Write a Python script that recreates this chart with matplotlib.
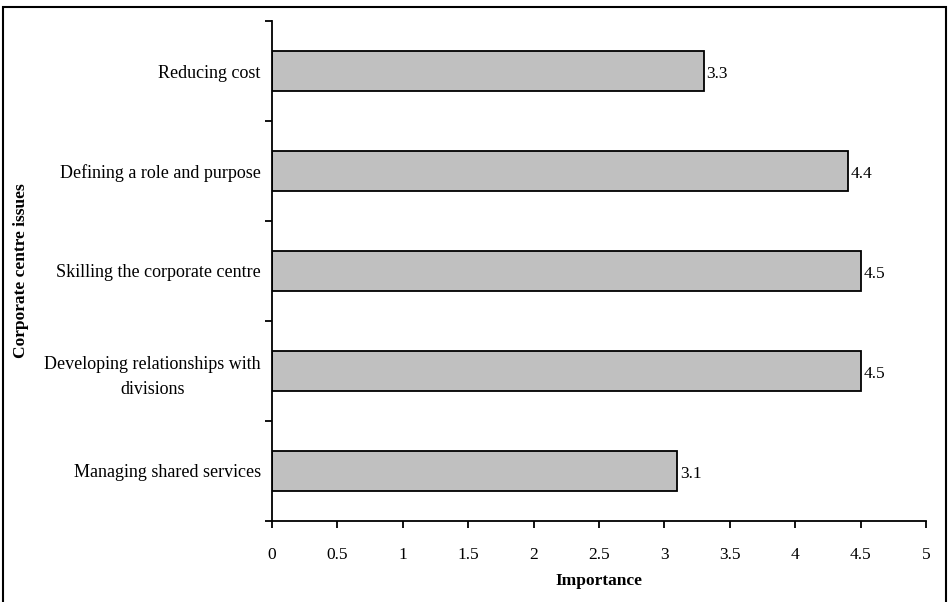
import matplotlib
matplotlib.use('Agg')
import matplotlib.pyplot as plt
from matplotlib.patches import Rectangle

plt.rcParams['font.family'] = ['Liberation Serif', 'DejaVu Serif']

# 항목별 중요도 (아래에서 위 순서)
issues = ['Managing shared services',
          'Developing relationships with\ndivisions',
          'Skilling the corporate centre',
          'Defining a role and purpose',
          'Reducing cost']
importance = [3.1, 4.5, 4.5, 4.4, 3.3]
xticks = [0, 0.5, 1, 1.5, 2, 2.5, 3, 3.5, 4, 4.5, 5]

fig = plt.figure(figsize=(9.49, 6.02), dpi=100)
ax = fig.add_axes([0.2866, 0.1346, 0.9758 - 0.2866, 0.9651 - 0.1346])

ypos = range(len(issues))
ax.barh(ypos, importance, height=0.4, color='#c0c0c0',
        edgecolor='black', linewidth=1.3)

for y, v in zip(ypos, importance):
    ax.text(v + 0.02, y - 0.03, '%.1f' % v, va='center', ha='left', fontsize=12.5)

ax.set_xlim(0, 5)
ax.set_ylim(-0.5, len(issues) - 0.5)
ax.set_xticks(xticks)
ax.set_xticklabels(['%g' % t for t in xticks], fontsize=12.5)

# 눈금은 항목 경계에, 라벨은 항목 중앙에
ax.set_yticks([i - 0.5 for i in range(len(issues) + 1)])
ax.set_yticklabels([])
ax.set_yticks(list(ypos), minor=True)
ax.set_yticklabels(issues, minor=True, fontsize=13, multialignment='center',
                   linespacing=1.6)
ax.tick_params(axis='y', which='minor', length=0, pad=8)
ax.tick_params(axis='y', which='major', direction='out', length=5, width=1.3)
ax.tick_params(axis='x', direction='out', length=5, width=1.3, pad=14)

for s in ['top', 'right']:
    ax.spines[s].set_visible(False)
for s in ['left', 'bottom']:
    ax.spines[s].set_linewidth(1.3)

ax.set_xlabel('Importance', fontsize=12.5, fontweight='bold')
ax.xaxis.set_label_coords(0.5, -0.104)
ax.set_ylabel('Corporate centre issues', fontsize=12.5, fontweight='bold')
ax.yaxis.set_label_coords(-0.372, 0.5)

# 바깥 테두리
fig.patches.append(Rectangle((3 / 949, -0.01), 943 / 949, 1.01 - 7 / 602,
                             transform=fig.transFigure, fill=False,
                             edgecolor='black', linewidth=1.5))

fig.savefig('out.png', dpi=100)
